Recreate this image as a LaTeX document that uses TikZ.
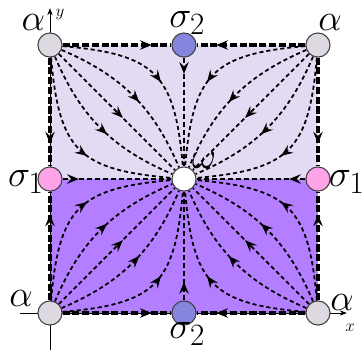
\documentclass[tikz,border=0pt]{standalone}
\usetikzlibrary{arrows.meta, decorations.markings, backgrounds}
\definecolor{TopFill}{RGB}{227,218,243}
\definecolor{BotFill}{RGB}{179,126,255}
\definecolor{AlphaGray}{RGB}{222,216,224}
\definecolor{SigBlue}{RGB}{133,133,221}
\definecolor{SigPink}{RGB}{255,163,232}
\newcommand{\fixlbl}[1]{\scalebox{1.27}{#1}}

\begin{document}
\begin{tikzpicture}[x=2cm, y=2cm,
    pt/.style={circle, draw=black!75, line width=0.9pt, minimum size=0.72cm,
               inner sep=0pt},
    lbl/.style={font=\Huge, inner sep=0pt},
    axis/.style={-{Stealth[length=6pt, width=4.5pt]}, line width=0.6pt},
    stream/.style={line width=1.5pt, dash pattern=on 3.5pt off 2.5pt,
                   decoration={markings, mark=at position #1 with
                     {\arrow{Stealth[length=10pt, width=8pt, inset=3.5pt]}}},
                   postaction={decorate}},
    rim/.style={stream=#1, line width=2.6pt, dash pattern=on 6pt off 2.3pt},
    spoke/.style={stream=#1, line width=1.8pt, dash pattern=on 4.5pt off 2.3pt}
  ]
  \useasboundingbox (-0.746,-0.552) rectangle (4.672,4.672);

  % fixed points
  \node[pt, fill=AlphaGray] (aTL) at (0,4) {};
  \node[pt, fill=AlphaGray] (aTR) at (4,4) {};
  \node[pt, fill=AlphaGray] (aBL) at (0,0) {};
  \node[pt, fill=AlphaGray] (aBR) at (4,0) {};
  \node[pt, fill=SigBlue] (sT) at (2,4) {};
  \node[pt, fill=SigBlue] (sB) at (2,0) {};
  \node[pt, fill=SigPink] (sL) at (0,2) {};
  \node[pt, fill=SigPink] (sR) at (4,2) {};
  \node[pt, fill=white] (w) at (2,2) {};

  % labels
  \node[lbl] (laTL) at (-0.25,4.33) {\fixlbl{$\alpha$}};
  \node[lbl] (laTR) at (4.18,4.33) {\fixlbl{$\alpha$}};
  \node[lbl] (laBL) at (-0.43,0.21) {\fixlbl{$\alpha$}};
  \node[lbl] (laBR) at (4.36,0.16) {\fixlbl{$\alpha$}};
  \node[lbl] (lsT) at (2.05,4.33) {\fixlbl{$\sigma_2$}};
  \node[lbl] (lsB) at (2.05,-0.31) {\fixlbl{$\sigma_2$}};
  \node[lbl] (lsL) at (-0.36,1.96) {\fixlbl{$\sigma_1$}};
  \node[lbl] (lsR) at (4.43,1.96) {\fixlbl{$\sigma_1$}};
  \node[lbl] (lw) at (2.3,2.28) {\fixlbl{$\omega$}};

  % axes
  \coordinate (xs) at (-0.45,0);
  \coordinate (xe) at (4.43,0);
  \coordinate (ys) at (0,-0.55);
  \coordinate (ye) at (0,4.55);
  \node[font=\Large] (lx) at (4.48,-0.22) {$x$};
  \node[font=\Large] (ly) at (0.15,4.45) {$y$};

  \begin{scope}[on background layer]
    \fill[TopFill] (0,2) rectangle (4,4);
    \fill[BotFill] (0,0) rectangle (4,2);
    \draw[axis] (xs) -- (xe);
    \draw[axis] (ys) -- (ye);

    % orbits from the corners into omega
    \foreach \c in {aTL, aTR, aBL, aBR} {
      \foreach \b/\l in {40/1.4, 22/1, 0/1, -22/1, -40/1.4}
        \draw[stream=0.55] (\c) to[bend left=\b, looseness=\l] (w);
    }

    % invariant edges
    \draw[rim=0.82] (aTL) -- (sT);
    \draw[rim=0.82] (aTR) -- (sT);
    \draw[rim=0.82] (aBL) -- (sB);
    \draw[rim=0.82] (aBR) -- (sB);
    \draw[rim=0.79] (aTL) -- (sL);
    \draw[rim=0.79] (aBL) -- (sL);
    \draw[rim=0.79] (aTR) -- (sR);
    \draw[rim=0.79] (aBR) -- (sR);

    % saddles into omega
    \draw[spoke=0.15] (sT) -- (w);
    \draw[spoke=0.17] (sB) -- (w);
    \draw[spoke=0.15] (sL) -- (w);
    \draw[spoke=0.15] (sR) -- (w);
  \end{scope}
\end{tikzpicture}
\end{document}
